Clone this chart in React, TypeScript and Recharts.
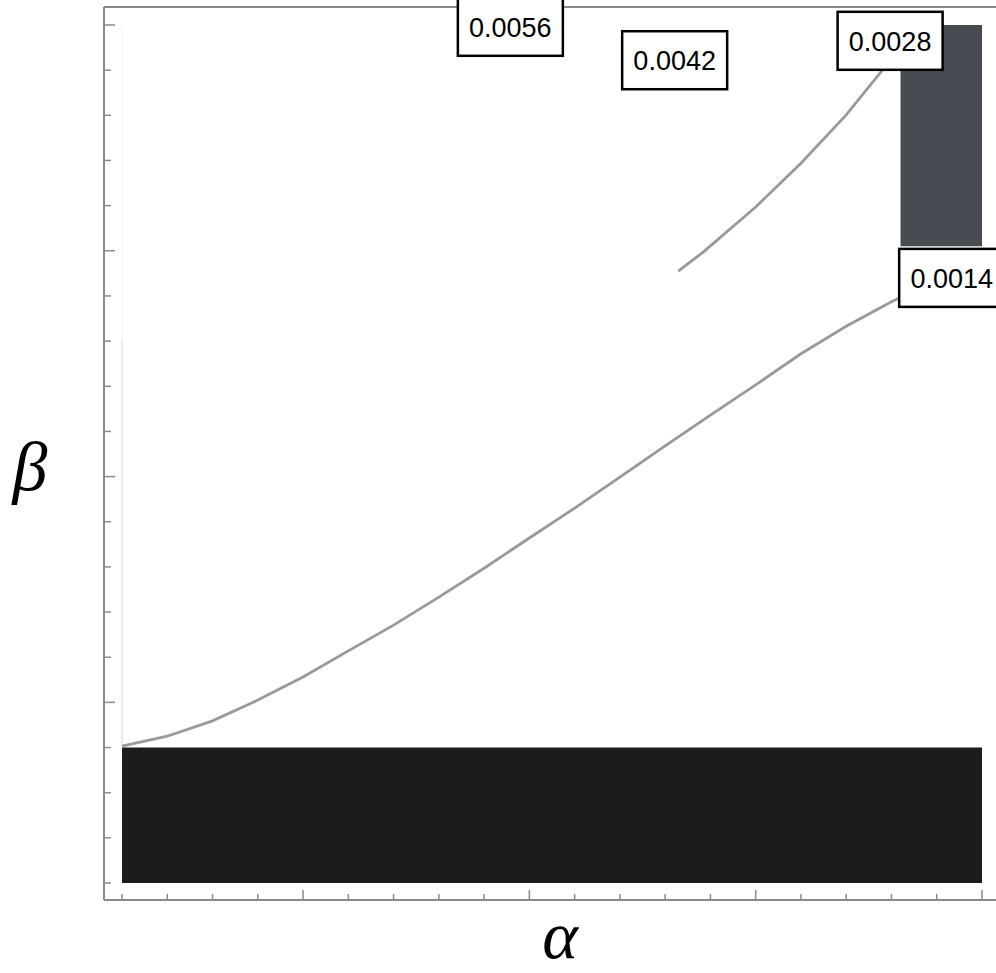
import React from 'react';
import { ComposedChart, Line, Scatter, XAxis, YAxis, ReferenceArea } from 'recharts';

// axis ticks (alpha and beta both run 0.1 .. 2.0)
const ALPHA_TICKS = [0.1, 0.2, 0.3, 0.4, 0.5, 0.6, 0.7, 0.8, 0.9, 1.0, 1.1, 1.2, 1.3, 1.4, 1.5, 1.6, 1.7, 1.8, 1.9, 2.0];
const BETA_TICKS = [0.1, 0.2, 0.3, 0.4, 0.5, 0.6, 0.7, 0.8, 0.9, 1.0, 1.1, 1.2, 1.3, 1.4, 1.5, 1.6, 1.7, 1.8, 1.9, 2.0];

// contour level 0.0014
const contour0014 = [
  { a: 0.1, b: 0.403 },
  { a: 0.2, b: 0.425 },
  { a: 0.3, b: 0.459 },
  { a: 0.4, b: 0.505 },
  { a: 0.5, b: 0.556 },
  { a: 0.6, b: 0.614 },
  { a: 0.7, b: 0.671 },
  { a: 0.8, b: 0.733 },
  { a: 0.9, b: 0.797 },
  { a: 1.0, b: 0.864 },
  { a: 1.1, b: 0.93 },
  { a: 1.2, b: 0.999 },
  { a: 1.3, b: 1.068 },
  { a: 1.4, b: 1.136 },
  { a: 1.5, b: 1.203 },
  { a: 1.6, b: 1.272 },
  { a: 1.7, b: 1.333 },
  { a: 1.8, b: 1.387 },
  { a: 1.9, b: 1.435 },
];

// contour level 0.0028 (only the upper-right piece is drawn)
const contour0028 = [
  { a: 1.329, b: 1.455 },
  { a: 1.384, b: 1.497 },
  { a: 1.5, b: 1.597 },
  { a: 1.6, b: 1.694 },
  { a: 1.7, b: 1.801 },
  { a: 1.775, b: 1.894 },
  { a: 1.81, b: 1.935 },
];

// faint mesh edge along alpha = 0.1
const meshEdgeLow = [
  { a: 0.1, b: 0.403 },
  { a: 0.1, b: 1.3 },
];
const meshEdgeHigh = [
  { a: 0.1, b: 1.3 },
  { a: 0.1, b: 2.0 },
];

// contour level labels
const contourLabels = [
  { a: 0.958, b: 1.996, text: '0.0056' },
  { a: 1.321, b: 1.922, text: '0.0042' },
  { a: 1.797, b: 1.965, text: '0.0028' },
  { a: 1.933, b: 1.44, text: '0.0014' },
];

// filled regions
const regionA1 = [0.1, 1.82];
const regionA2 = [2.0, 2.0];
const regionB1 = [0.1, 1.51];
const regionB2 = [0.4, 2.0];
const REGION_FILLS = ['#1c1c1c', '#474c52'];

const FRAME = '#8a8a8a';
const LINE = '#999999';

const isMajor = (v: number) => Math.abs(v * 2 - Math.round(v * 2)) < 1e-6;

const BottomTick = ({ x, y, payload }: any) => (
  <line x1={x} x2={x} y1={y} y2={y - (isMajor(payload.value) ? 10 : 6)} stroke={FRAME} strokeWidth={1.5} />
);
const TopTick = ({ x, y, payload }: any) => (
  <line x1={x} x2={x} y1={y} y2={y + (isMajor(payload.value) ? 10 : 6)} stroke={FRAME} strokeWidth={1.5} />
);
const LeftTick = ({ x, y, payload }: any) => (
  <line x1={x} x2={x + (isMajor(payload.value) ? 11 : 7)} y1={y} y2={y} stroke={FRAME} strokeWidth={1.5} />
);
const RightTick = ({ x, y }: any) => (
  <line x1={x} x2={x - 11} y1={y} y2={y} stroke={FRAME} strokeWidth={1.5} />
);

const AxisTitle = (props: any) => {
  const { viewBox, text, dx, dy, size } = props;
  if (!viewBox) return null;
  return (
    <text
      x={viewBox.x + dx}
      y={viewBox.y + dy}
      textAnchor="middle"
      fontFamily="'Liberation Serif', 'Times New Roman', serif"
      fontStyle="italic"
      fontSize={size}
      fill="#000"
    >
      {text}
    </text>
  );
};

const LabelBox = (props: any) => {
  const { cx, cy, payload } = props;
  if (cx == null || cy == null) return null;
  return (
    <g>
      <rect x={cx - 52.5} y={cy - 29} width={105} height={58} fill="#fff" stroke="#000" strokeWidth={2.5} />
      <text
        x={cx}
        y={cy + 10}
        textAnchor="middle"
        fontFamily="'Liberation Sans', Arial, sans-serif"
        fontSize={27}
        fill="#000"
      >
        {payload.text}
      </text>
    </g>
  );
};

const App = () => {
  return (
    <div style={{ position: 'absolute', left: 0, top: 0, width: 996, height: 973, overflow: 'hidden', background: '#fff' }}>
      <ComposedChart width={1007} height={973} margin={{ top: 0, right: 0, bottom: 0, left: 0 }}>
        <XAxis
          dataKey="a"
          type="number"
          domain={[0.1, 2.0]}
          ticks={ALPHA_TICKS}
          interval={0}
          height={73}
          padding={{ left: 18, right: 15 }}
          tickSize={0}
          tickMargin={0}
          tickLine={false}
          tick={<BottomTick />}
          axisLine={{ stroke: FRAME, strokeWidth: 2 }}
          label={<AxisTitle text="α" dx={456} dy={58} size={68} />}
        />
        <XAxis
          xAxisId="top"
          orientation="top"
          dataKey="a"
          type="number"
          domain={[0.1, 2.0]}
          ticks={ALPHA_TICKS}
          interval={0}
          height={7}
          padding={{ left: 18, right: 15 }}
          tickSize={0}
          tickMargin={0}
          tickLine={false}
          tick={<TopTick />}
          axisLine={{ stroke: FRAME, strokeWidth: 2 }}
        />
        <YAxis
          type="number"
          domain={[0.1, 2.0]}
          ticks={BETA_TICKS}
          interval={0}
          width={104}
          padding={{ top: 18, bottom: 17 }}
          tickSize={0}
          tickMargin={0}
          tickLine={false}
          tick={<LeftTick />}
          axisLine={{ stroke: FRAME, strokeWidth: 2 }}
          label={<AxisTitle text="β" dx={30} dy={483} size={70} />}
        />
        <YAxis
          yAxisId="right"
          orientation="right"
          type="number"
          domain={[0.1, 2.0]}
          ticks={BETA_TICKS}
          interval={0}
          width={10}
          padding={{ top: 18, bottom: 17 }}
          tickSize={0}
          tickMargin={0}
          tickLine={false}
          tick={<RightTick />}
          axisLine={{ stroke: FRAME, strokeWidth: 2 }}
        />
        {REGION_FILLS.map((fill, i) => (
          <ReferenceArea
            key={i}
            x1={regionA1[i]}
            x2={regionA2[i]}
            y1={regionB1[i]}
            y2={regionB2[i]}
            fill={fill}
            fillOpacity={1}
            stroke="none"
          />
        ))}
        <Line data={meshEdgeHigh} dataKey="b" stroke="#f1f1f1" strokeWidth={1} dot={false} isAnimationActive={false} />
        <Line data={meshEdgeLow} dataKey="b" stroke="#d6d6d6" strokeWidth={1} dot={false} isAnimationActive={false} />
        <Line data={contour0014} dataKey="b" stroke={LINE} strokeWidth={2.8} dot={false} isAnimationActive={false} />
        <Line data={contour0028} dataKey="b" stroke={LINE} strokeWidth={2.8} dot={false} isAnimationActive={false} />
        <Scatter data={contourLabels} dataKey="b" shape={<LabelBox />} isAnimationActive={false} />
      </ComposedChart>
    </div>
  );
};

export default App;
